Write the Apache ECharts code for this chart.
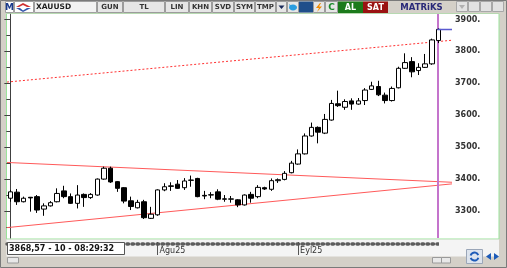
<!DOCTYPE html>
<html><head><meta charset="utf-8">
<script src="https://cdn.jsdelivr.net/npm/echarts@6/dist/echarts.min.js"></script>
<style>html,body{margin:0;padding:0;background:#d4d0c8;overflow:hidden}#c{width:507px;height:268px}</style>
</head><body><div id="c"></div>
<script>
// ---------- data ----------
const symbolName = 'XAUUSD';
const dates = ['02.07','03.07','04.07','07.07','08.07','09.07','10.07','11.07','14.07','15.07','16.07','17.07','18.07','21.07','22.07','23.07','24.07','25.07','28.07','29.07','30.07','31.07',
 '01.08','04.08','05.08','06.08','07.08','08.08','11.08','12.08','13.08','14.08','15.08','18.08','19.08','20.08','21.08','22.08','25.08','26.08','27.08','28.08','29.08',
 '01.09','02.09','03.09','04.09','05.09','08.09','09.09','10.09','11.09','12.09','15.09','16.09','17.09','18.09','19.09','22.09','23.09','24.09','25.09','26.09','29.09','30.09'];
const opens  = [3340,3359,3329,3343,3345,3306,3316,3329,3363,3345,3324,3352,3342,3350,3400,3434,3392,3373,3332,3310,3329,3277,
 3288,3366,3377,3384,3373,3396,3402,3349,3350,3360,3338,3337,3335,3319,3352,3345,3373,3368,3395,3399,3420,
 3447,3479,3535,3562,3544,3585,3636,3625,3645,3635,3646,3681,3690,3663,3646,3686,3747,3768,3740,3750,3761,3834];
const closes = [3360,3329,3340,3341,3303,3316,3326,3355,3345,3324,3350,3342,3352,3400,3434,3391,3371,3331,3314,3327,3279,3290,
 3366,3376,3379,3371,3394,3397,3345,3347,3351,3337,3337,3338,3319,3350,3340,3374,3369,3395,3398,3418,3450,
 3479,3535,3562,3547,3587,3637,3630,3643,3635,3645,3679,3692,3664,3646,3684,3747,3765,3736,3750,3761,3836,3869];
const lows   = [3329,3319,3327,3298,3294,3285,3314,3327,3340,3322,3308,3313,3338,3348,3398,3388,3360,3324,3303,3308,3275,3275,
 3285,3362,3363,3369,3366,3376,3343,3337,3340,3334,3329,3326,3312,3317,3326,3340,3366,3363,3388,3396,3418,
 3445,3477,3533,3512,3541,3583,3626,3617,3617,3633,3632,3679,3660,3637,3643,3684,3745,3719,3726,3748,3758,3826];
const highs  = [3366,3369,3345,3344,3350,3324,3331,3371,3379,3355,3381,3355,3356,3402,3439,3439,3394,3375,3345,3335,3335,3313,
 3368,3387,3390,3397,3403,3411,3404,3363,3359,3368,3350,3347,3337,3352,3360,3381,3376,3402,3402,3425,3457,
 3493,3543,3577,3565,3604,3648,3677,3650,3653,3654,3685,3705,3708,3671,3690,3752,3794,3782,3763,3792,3840,3872];
const yLabelValues = [3300,3400,3500,3600,3700,3800,3900];
const yMinorValues = [3250,3350,3450,3550,3650,3750,3850];
const monthStarts = ['01.08','01.09'];
const monthNames  = ['Ağu25','Eyl25'];
const upperTrend = [[-0.5,3452],[66,3390]];
const lowerTrend = [[-0.5,3248],[66,3385]];
const resistanceTrend = [[-0.5,3704],[66,3835]];
const cursorIndex = 63.8;
const lastPrice = 3868.57;
const statusText = '3868,57 - 10 - 08:29:32';
const toolbarButtons = ['GUN','TL','LIN','KHN','SVD','SYM','TMP'];

// ---------- chart ----------
const X_MIN = -0.5, X_MAX = 66, Y_MIN = 3215.4, Y_MAX = 3917.2;
const candles = dates.map((d, i) => [i, opens[i], closes[i], lows[i], highs[i]]);
const monthIdx = monthStarts.map(d => dates.indexOf(d));

const FONT = 'DejaVu Sans';
function R(x, y, w, h, fill, stroke, z) {
  const st = {fill: fill || 'none', lineWidth: 1};
  if (stroke) st.stroke = stroke;
  return {type:'rect', silent:true, z: z, shape:{x:x, y:y, width:w, height:h}, style: st};
}
function T(text, x, y, o) {
  o = o || {};
  return {type:'text', silent:true, z: o.z || 101, x:x, y:y,
          style:{text:text, fill:o.color || '#222', fontSize:o.size || 7, fontWeight:o.weight || 'bold',
                 fontFamily:o.family || FONT, align:o.align || 'center', verticalAlign:'middle'}};
}
function P(points, fill, z) {
  return {type:'polygon', silent:true, z: z || 101, shape:{points:points}, style:{fill:fill}};
}

const g = [];
// backgrounds (behind)
g.push(R(0, 0, 507, 268, '#d4d0c8', null, -20));
g.push(R(6.5, 13.5, 492.5, 225.5, '#ffffff', '#9be39b', -15));
g.push(R(6.5, 239.5, 492.5, 17, '#f4f4f4', null, -15));
// toolbar (front)
g.push(R(0, 0, 507, 13.5, '#d4d0c8', null, 100));
g.push(R(5.5, 1.5, 8, 11, '#ffffff', '#a0a0a0', 100));
g.push(T('M', 9.5, 7.5, {color:'#1a3a8c', size:9}));
g.push(R(14.5, 1.5, 19, 11, '#ffffff', '#a0a0a0', 100));
g.push(P([[16,7],[23,3],[31,7],[27,7],[23,5],[19,7]], '#d03030'));
g.push(P([[16,8],[20,8],[23,10.5],[27,8],[31,8],[23,12]], '#3355aa'));
g.push(R(34.5, 1.5, 62, 11, '#f2f2f2', '#a0a0a0', 100));
g.push(T(symbolName, 36, 7.5, {align:'left', color:'#222', size:7.5}));
const btnEdges = [97,123,165,189,212,234,255,276];
toolbarButtons.forEach((b, i) => {
  const x0 = btnEdges[i], x1 = btnEdges[i + 1];
  g.push(R(x0 + 0.5, 1.5, x1 - x0 - 1, 11, '#e6e6e6', '#9c9c9c', 100));
  g.push(T(b, (x0 + x1) / 2, 7.5, {color:'#333', size:7}));
});
g.push(R(276.5, 1.5, 10, 11, '#e6e6e6', '#9c9c9c', 100));
g.push(P([[278.5,5.5],[284.5,5.5],[281.5,9]], '#1a2a5a'));
g.push(R(287.5, 1.5, 11, 11, '#e6e6e6', '#9c9c9c', 100));
g.push({type:'ellipse', silent:true, z:101, shape:{cx:293, cy:7.5, rx:4, ry:3}, style:{fill:'#2b9de0'}});
g.push(P([[289,4],[292,6],[290,7]], '#2b9de0'));
g.push(R(299, 1.5, 14, 11, '#1f4e8a', null, 100));
g.push(R(313.5, 1.5, 11, 11, '#e6e6e6', '#9c9c9c', 100));
g.push(P([[320,3],[316,8],[319,8],[317,12],[322,6.5],[319,6.5],[321,3]], '#f08a00'));
g.push(R(325.5, 1.5, 12, 11, '#e6e6e6', '#9c9c9c', 100));
g.push(T('C', 331.5, 7.5, {color:'#1a8a2a', size:9}));
g.push(R(338, 1.5, 25, 11.5, '#1b7a1b', null, 100));
g.push(T('AL', 350.5, 7.5, {color:'#ffffff', size:8}));
g.push(R(363, 1.5, 25, 11.5, '#9a1212', null, 100));
g.push(T('SAT', 375.5, 7.5, {color:'#ffffff', size:8}));
g.push(T('MATRiKS', 421.5, 7.5, {color:'#2a2a78', size:8.5}));
[456,468,480,492].forEach(x => g.push(R(x + 0.5, 1.5, 11, 10, '#e2e2e2', '#a8a8a8', 100)));
g.push(P([[459,5],[465,5],[462,9]], '#b0b0b0'));
// status box
g.push(R(7.5, 242.5, 117, 12, '#ffffff', '#555555', 100));
g.push(T(statusText, 9, 248.5, {align:'left', color:'#111', size:8}));
// cover the dotted axis line past the cursor
g.push(R(439, 240.5, 13, 6, '#f4f4f4', null, 100));
// bottom scroll row
g.push(R(7.5, 257.5, 11, 5.5, '#e8e8e8', '#9a9a9a', 100));
g.push(R(432.5, 257.5, 9, 5.5, '#e8e8e8', '#9a9a9a', 100));
g.push(R(441.5, 257.5, 9, 5.5, '#e8e8e8', '#9a9a9a', 100));
g.push(R(466.5, 249.5, 16, 14, '#dde4ee', '#9aa6b8', 100));
g.push({type:'arc', silent:true, z:101, shape:{cx:474.5, cy:256.5, r:4, startAngle:0.3, endAngle:2.8}, style:{stroke:'#1d5bb8', lineWidth:2, fill:'none'}});
g.push({type:'arc', silent:true, z:101, shape:{cx:474.5, cy:256.5, r:4, startAngle:3.4, endAngle:5.9}, style:{stroke:'#1d5bb8', lineWidth:2, fill:'none'}});
g.push(P([[486,256.5],[491,253],[491,260]], '#1d5bb8'));
g.push(P([[499,256.5],[494,253],[494,260]], '#1d5bb8'));
g.push(R(0.5, 0.5, 506, 267, null, '#7a7a7a', 102));

const chart = echarts.init(document.getElementById('c'), null, {renderer:'canvas'});
chart.setOption({
  animation: false,
  backgroundColor: 'transparent',
  grid: {left:7, right:55, top:14, bottom:30},
  xAxis: [
    {type:'value', min:X_MIN, max:X_MAX, position:'bottom', offset:4,
     axisLine:{show:false}, splitLine:{show:false},
     axisTick:{show:true, customValues:monthIdx, length:13, lineStyle:{color:'#555', width:1}},
     axisLabel:{show:true, customValues:monthIdx, formatter: v => monthNames[monthIdx.indexOf(v)] || '',
                align:'left', margin:5, padding:[0,0,0,2], color:'#333', fontFamily:FONT, fontSize:8}},
    {type:'value', min:X_MIN, max:X_MAX, position:'bottom', offset:6,
     axisLine:{show:true, lineStyle:{color:'#5c5c5c', width:3.5, type:[1.5, 3.5]}},
     axisTick:{show:false}, axisLabel:{show:false}, splitLine:{show:false}}
  ],
  yAxis: [
    {type:'value', position:'right', min:Y_MIN, max:Y_MAX, splitLine:{show:false},
     axisLine:{show:true, lineStyle:{color:'#404040', width:1}},
     axisTick:{show:true, inside:true, length:6, customValues:yLabelValues, lineStyle:{color:'#404040'}},
     axisLabel:{show:true, customValues:yLabelValues, formatter: v => v + '.', margin:3,
                color:'#333', fontFamily:FONT, fontWeight:'bold', fontSize:8}},
    {type:'value', position:'right', min:Y_MIN, max:Y_MAX, splitLine:{show:false},
     axisLine:{show:false}, axisLabel:{show:false},
     axisTick:{show:true, inside:true, length:4, customValues:yMinorValues, lineStyle:{color:'#404040'}}}
  ],
  graphic: {elements: g},
  series: [
    {type:'line', xAxisIndex:0, yAxisIndex:0, data:upperTrend, symbol:'none', silent:true, z:3,
     lineStyle:{color:'#ff5a5a', width:1}},
    {type:'line', xAxisIndex:0, yAxisIndex:0, data:lowerTrend, symbol:'none', silent:true, z:3,
     lineStyle:{color:'#ff5a5a', width:1}},
    {type:'line', xAxisIndex:0, yAxisIndex:0, data:resistanceTrend, symbol:'none', silent:true, z:3,
     lineStyle:{color:'#ff3030', width:1, type:[2,2]}},
    {type:'candlestick', xAxisIndex:0, yAxisIndex:0, data:candles, barWidth:5, z:5,
     itemStyle:{color:'#ffffff', color0:'#000000', borderColor:'#000000', borderColor0:'#000000', borderColorDoji:'#000000', borderWidth:1},
     markLine:{silent:true, symbol:'none', label:{show:false},
               lineStyle:{color:'#c474cc', width:2, type:'solid'}, data:[{xAxis:cursorIndex}]}},
    {type:'line', xAxisIndex:0, yAxisIndex:0, data:[[cursorIndex, lastPrice],[X_MAX, lastPrice]], symbol:'none', silent:true, z:6,
     lineStyle:{color:'#5a5ad0', width:1.5}}
  ]
});
</script>
</body></html>
